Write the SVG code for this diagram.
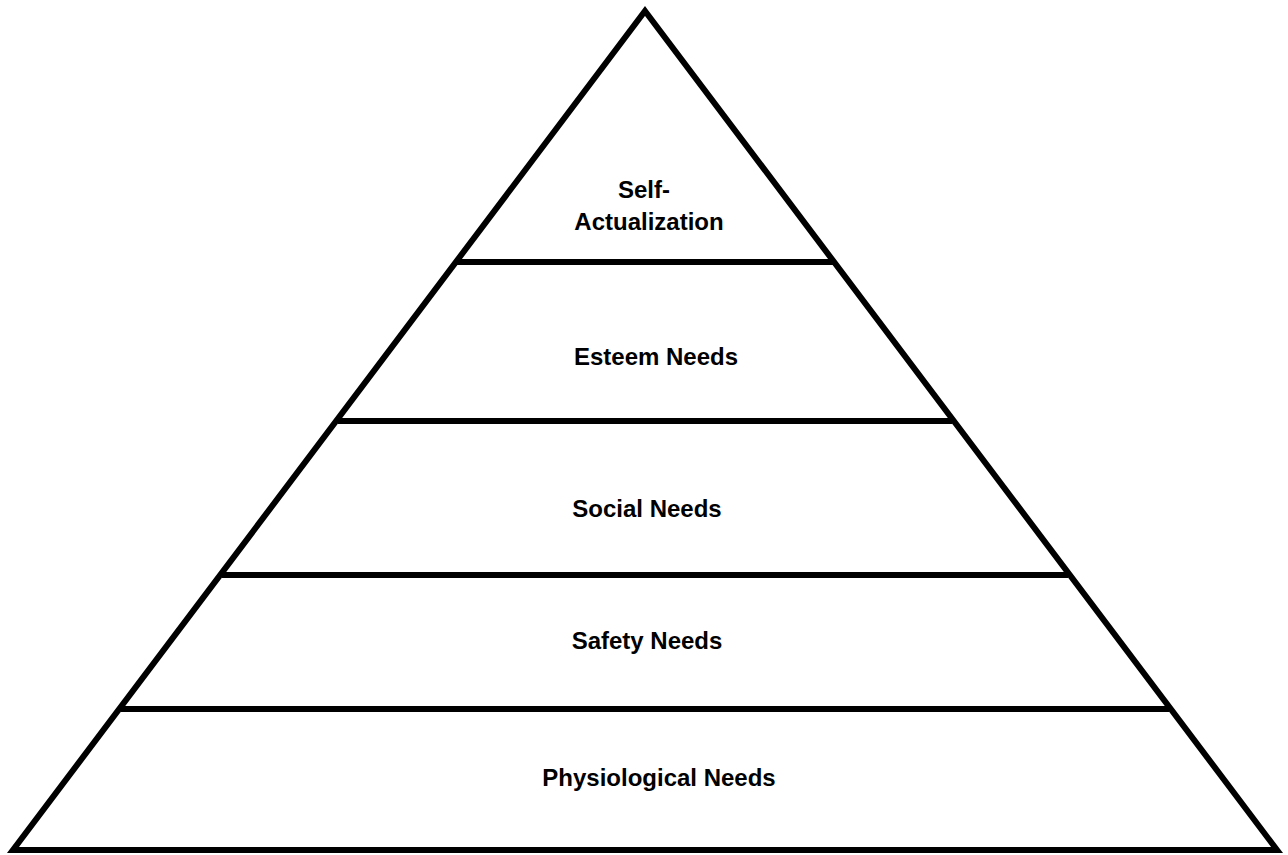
<svg xmlns="http://www.w3.org/2000/svg" width="1288" height="855" viewBox="0 0 1288 855">
<style>
.edge{stroke:#000;stroke-width:6;fill:none;stroke-linejoin:miter;stroke-miterlimit:10}
.lbl{font-family:"Liberation Sans",Arial,sans-serif;font-weight:bold;font-size:24px;fill:#000;text-anchor:middle}
</style>
<rect width="1288" height="855" fill="#fff"/>
<g id="pyramid">
<polygon class="edge" points="645,11 1277,850 13,850"/>
</g>
<g id="connectors">
<line class="edge" x1="457" y1="262" x2="833" y2="262"/>
<line class="edge" x1="338" y1="421" x2="952" y2="421"/>
<line class="edge" x1="222" y1="575" x2="1068" y2="575"/>
<line class="edge" x1="121" y1="709" x2="1169" y2="709"/>
</g>
<g id="self-actualization">
<text class="lbl" x="644" y="198">Self-</text>
<text class="lbl" x="649" y="230">Actualization</text>
</g>
<g id="esteem"><text class="lbl" x="656" y="365">Esteem Needs</text></g>
<g id="social"><text class="lbl" x="647" y="517">Social Needs</text></g>
<g id="safety"><text class="lbl" x="647" y="649">Safety Needs</text></g>
<g id="physiological"><text class="lbl" x="659" y="786">Physiological Needs</text></g>
</svg>
